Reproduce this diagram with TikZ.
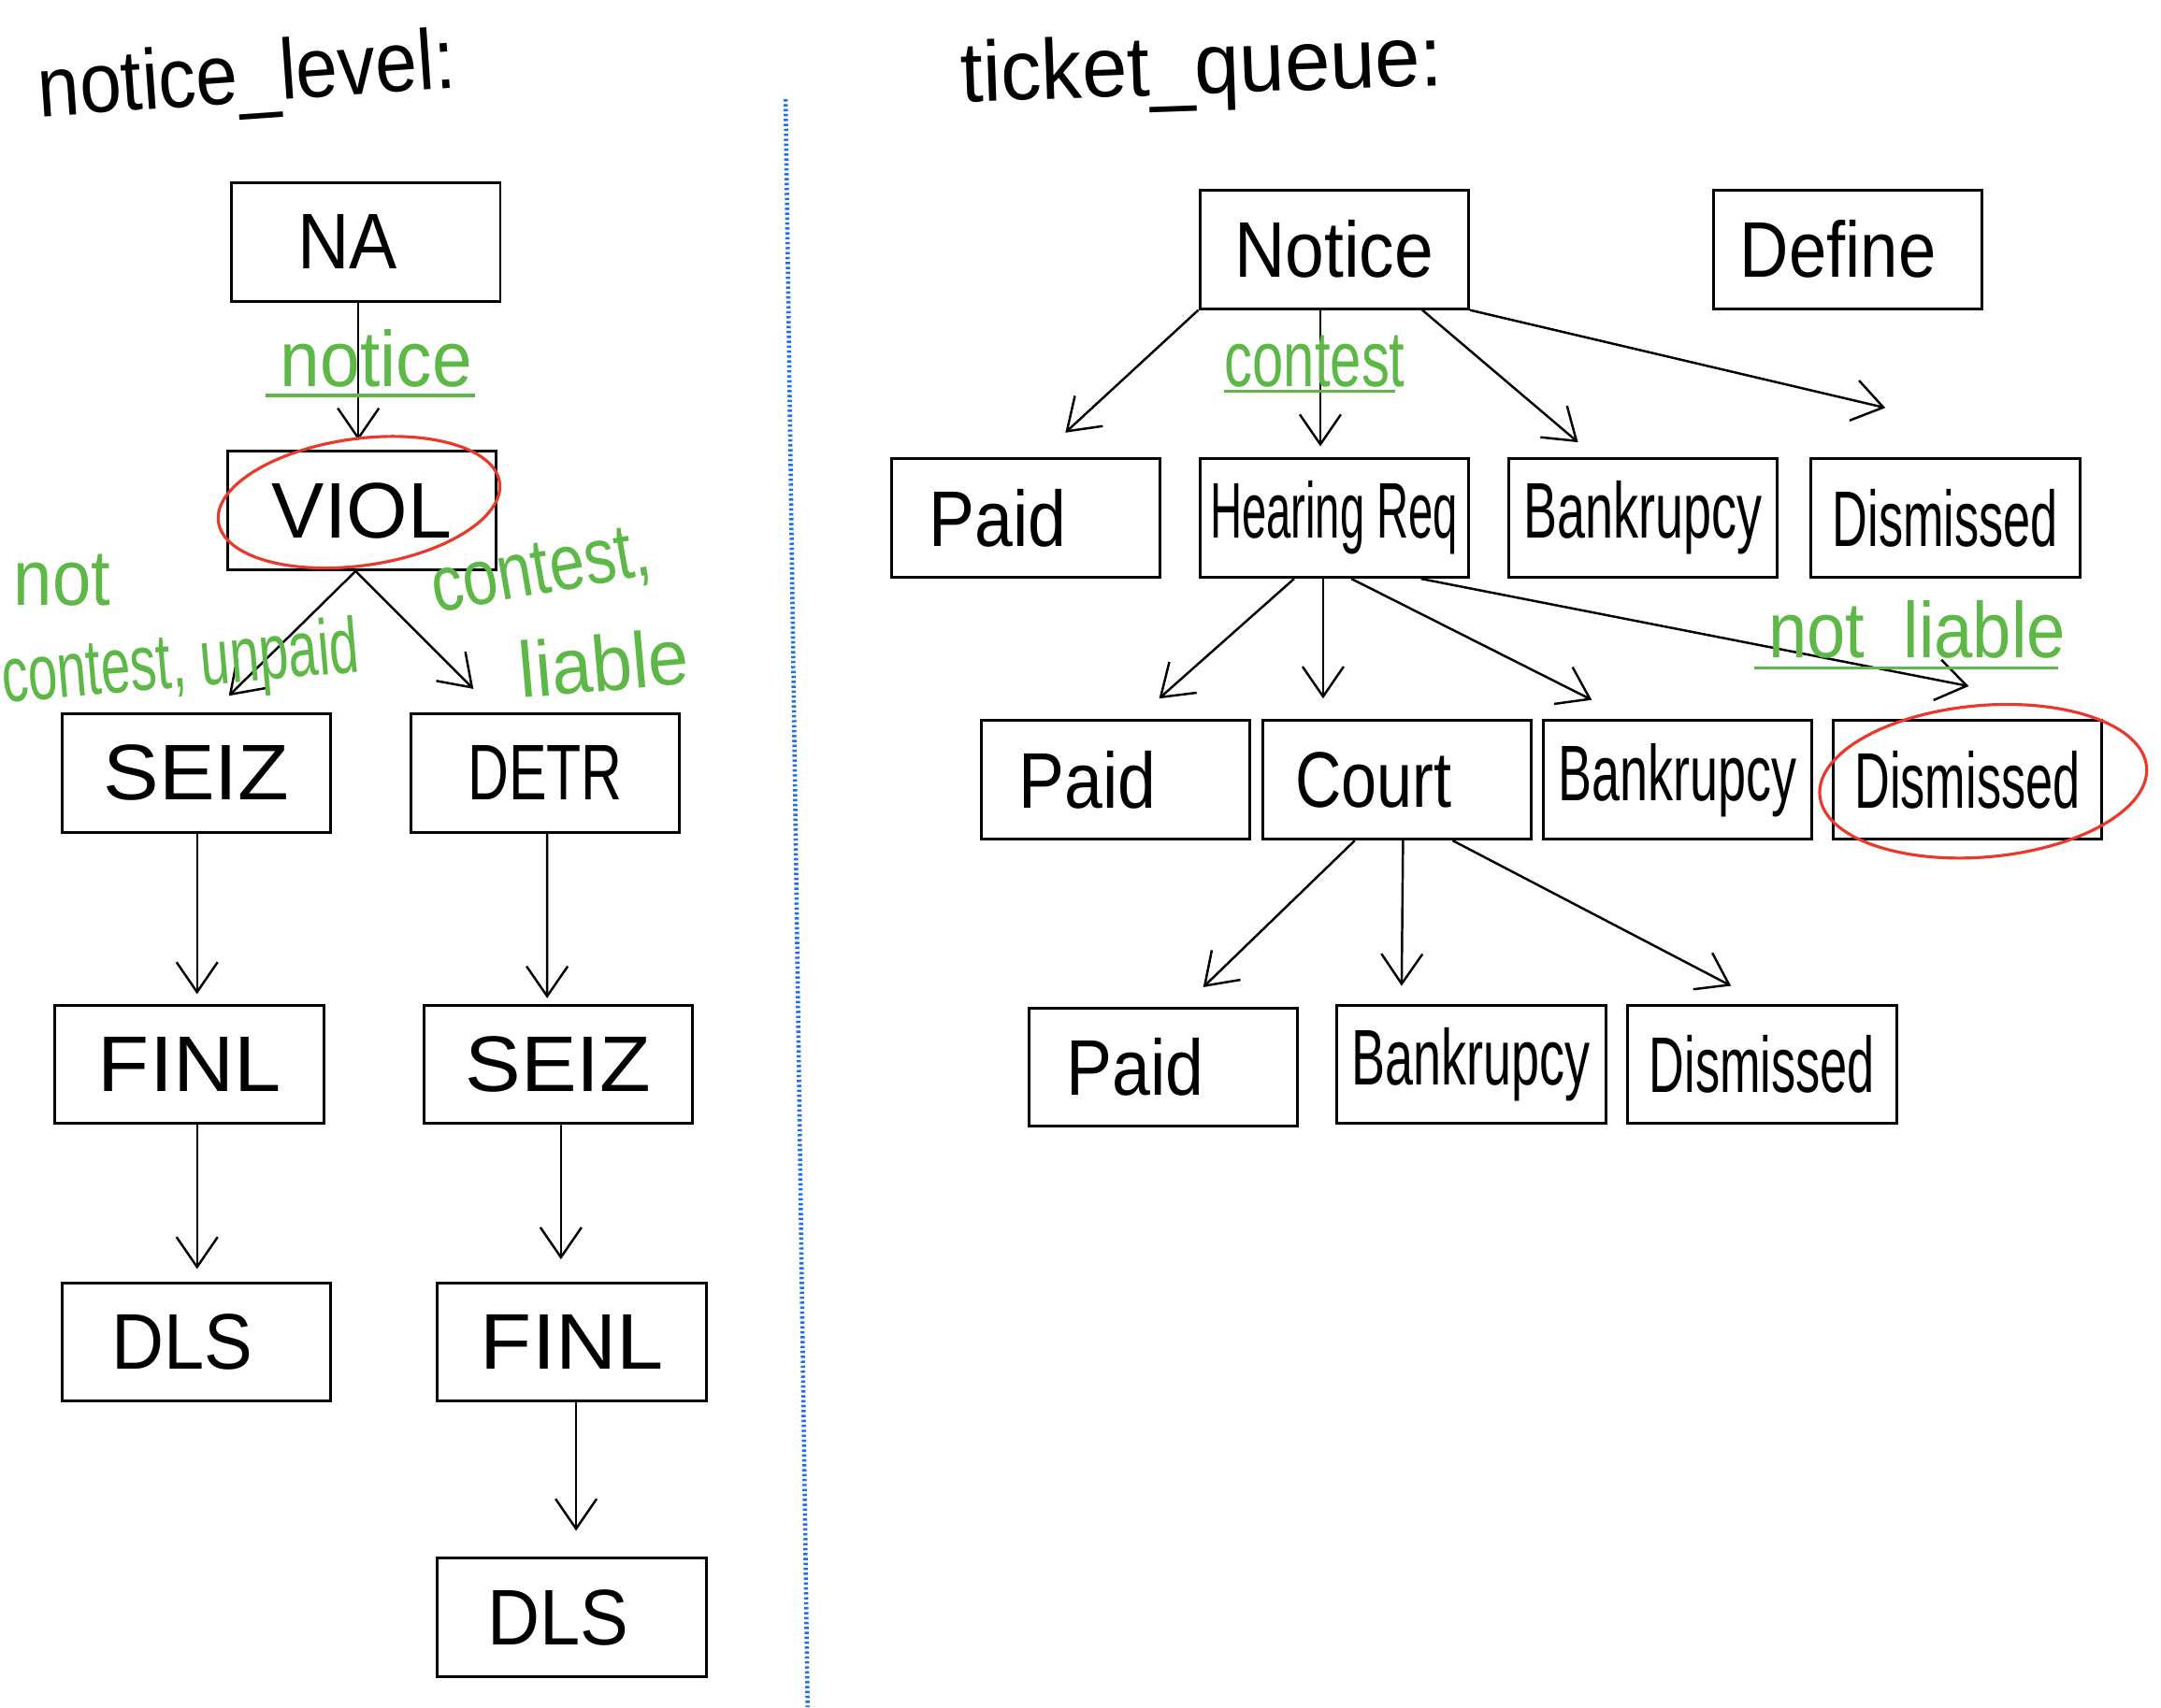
\documentclass[tikz,border=0pt]{standalone}
\usepackage{fontspec}
\usepackage{graphicx}
\setmainfont{Liberation Sans}
\usetikzlibrary{arrows.meta,calc}
\definecolor{hgreen}{HTML}{5DB847}
\definecolor{hred}{HTML}{E8392A}
\definecolor{hblue}{HTML}{1A6FF0}
\newcommand\hw[2]{\scalebox{#1}[1]{#2}}
\begin{document}
\begin{tikzpicture}[x=0.014739cm, y=-0.014739cm,
  box/.style={draw, line width=0.85pt, minimum width=2.874cm, minimum height=1.268cm, inner sep=0pt, font=\fontsize{24}{24}\selectfont},
  arr/.style={line width=0.7pt, -{Straight Barb[length=3.2mm,width=4.4mm]}},
  glabel/.style={text=hgreen, font=\fontsize{24}{24}\selectfont, inner sep=0pt},
  uline/.style={draw=hgreen, line width=0.9pt},
  ring/.style={draw=hred, line width=0.9pt},
  title/.style={font=\fontsize{26}{26}\selectfont, inner sep=0pt}]
\useasboundingbox[fill=white] (0,0) rectangle (1568,1239);

% titles
\node[title, rotate=4] (t1) at (179,58) {\hw{0.88}{notice\_level:}};
\node[title, rotate=2] (t2) at (872,52) {\hw{0.95}{ticket\_queue:}};

% separator
\draw[hblue, line width=1.3pt, dash pattern=on 0.7pt off 0.8pt] (570,72) -- (586,1239);

% left column
\node[box] (NA)    at (265.5,175.5) {\hw{0.91}{NA}\kern0.4cm};
\node[box] (VIOL)  at (262.5,370.5) {\hw{1.0}{VIOL}};
\node[box] (SEIZ)  at (142.5,561)   {\hw{1.06}{SEIZ}};
\node[box] (DETR)  at (395.5,561)   {\hw{0.72}{DETR}};
\node[box] (FINL)  at (137.5,772.5) {\hw{1.07}{FINL}};
\node[box] (SEIZb) at (405,772.5)   {\hw{1.06}{SEIZ}};
\node[box] (DLS)   at (142.5,974)   {\hw{0.92}{DLS}\kern0.3cm};
\node[box] (FINLb) at (415,974)     {\hw{1.07}{FINL}};
\node[box] (DLSb)  at (415,1174)    {\hw{0.92}{DLS}\kern0.3cm};

\draw[arr] ($(NA.south)+(-5.5,0)$) -- ($(VIOL.north)+(-2.5,-7)$);
\draw[arr] ($(VIOL.south)+(-4.5,0)$) -- ($(SEIZ.north)+(23.5,-12)$);
\draw[arr] ($(VIOL.south)+(-4.5,0)$) -- ($(DETR.north)+(-52,-17)$);
\draw[arr] ($(SEIZ.south)+(0.5,0)$) -- ($(FINL.north)+(5.5,-7)$);
\draw[arr] ($(FINL.south)+(5.5,0)$) -- ($(DLS.north)+(0.5,-9)$);
\draw[arr] ($(DETR.south)+(1.5,0)$) -- ($(SEIZb.north)+(-8,-4)$);
\draw[arr] ($(SEIZb.south)+(2,0)$) -- ($(FINLb.north)+(-8,-16)$);
\draw[arr] ($(FINLb.south)+(3,0)$) -- ($(DLSb.north)+(3,-19)$);

\coordinate (ringA) at ($(VIOL.center)+(-2,-6)$);
\draw[ring, rotate around={8:(ringA)}] (ringA) ellipse [x radius=103, y radius=46];

\node[glabel] (lnotice) at (273,260) {\hw{0.91}{notice}};
\draw[uline] ($(lnotice.center)+(-80,27)$) -- ($(lnotice.center)+(72,27)$);
\node[glabel] (lnot) at (45,421) {\hw{0.88}{not}};
\node[glabel, rotate=5] (lcu) at (131,484) {\hw{0.67}{contest, unpaid}};
\node[glabel, rotate=10] (lcon) at (393,416) {\hw{0.8}{contest,}};
\node[glabel, rotate=5] (lliab) at (438,481) {\hw{0.92}{liable}};

% right column
\node[box] (Notice) at (968,181)    {\hw{0.89}{Notice}};
\node[box] (Define) at (1340.5,181) {\hw{0.86}{Define}\kern0.2cm};
\node[box] (PaidA)  at (744.5,376)  {\hw{0.87}{Paid}\kern0.6cm};
\node[box] (HR)     at (968,376)    {\hw{0.56}{Hearing Req}};
\node[box] (BankA)  at (1192,376)   {\hw{0.64}{Bankrupcy}};
\node[box] (DismA)  at (1411.5,376) {\hw{0.62}{Dismissed}};
\node[box] (PaidB)  at (809.5,566)  {\hw{0.87}{Paid}\kern0.6cm};
\node[box] (Court)  at (1013.5,566) {\hw{0.81}{Court}\kern0.5cm};
\node[box] (BankB)  at (1217,566)   {\hw{0.64}{Bankrupcy}};
\node[box] (DismB)  at (1427.5,566) {\hw{0.62}{Dismissed}};
\node[box] (PaidC)  at (844,774.5)  {\hw{0.87}{Paid}\kern0.6cm};
\node[box] (BankC)  at (1067.5,772.5) {\hw{0.64}{Bankrupcy}};
\node[box] (DismC)  at (1278.5,772.5) {\hw{0.62}{Dismissed}};

\draw[arr] (Notice.south west) -- ($(PaidA.north)+(28.5,-18)$);
\draw[arr] ($(Notice.south)+(-10,0)$) -- ($(HR.north)+(-10,-8)$);
\draw[arr] ($(Notice.south)+(64,0)$) -- ($(BankA.north)+(-47,-11)$);
\draw[arr] (Notice.south east) -- ($(DismA.north)+(-43.5,-36)$);

\draw[arr] ($(HR.south)+(-29,0)$) -- ($(PaidB.north)+(31.5,-15)$);
\draw[arr] ($(HR.south)+(-8,0)$) -- ($(Court.north)+(-53.5,-15)$);
\draw[arr] ($(HR.south)+(12.5,0)$) -- ($(BankB.north)+(-62,-14)$);
\draw[arr] ($(HR.south)+(63,0)$) -- ($(DismB.north)+(1,-24)$);

\draw[arr] ($(Court.south)+(-30.5,0)$) -- ($(PaidC.north)+(29,-14)$);
\draw[arr] ($(Court.south)+(4.5,0)$) -- ($(BankC.north)+(-50.5,-13)$);
\draw[arr] ($(Court.south)+(40.5,0)$) -- ($(DismC.north)+(-22.5,-13)$);

\coordinate (ringB) at ($(DismB.center)+(11.5,1)$);
\draw[ring, rotate around={5:(ringB)}] (ringB) ellipse [x radius=119, y radius=55];

\node[glabel] (lcontest) at (954,262) {\hw{0.71}{contest}};
\draw[uline] ($(lcontest.center)+(-66,22)$) -- ($(lcontest.center)+(58,22)$);
\node[glabel] (lnl) at (1391,457) {\hw{0.88}{not\ \ liable}};
\draw[uline] ($(lnl.center)+(-118,28)$) -- ($(lnl.center)+(102,28)$);
\end{tikzpicture}
\end{document}
